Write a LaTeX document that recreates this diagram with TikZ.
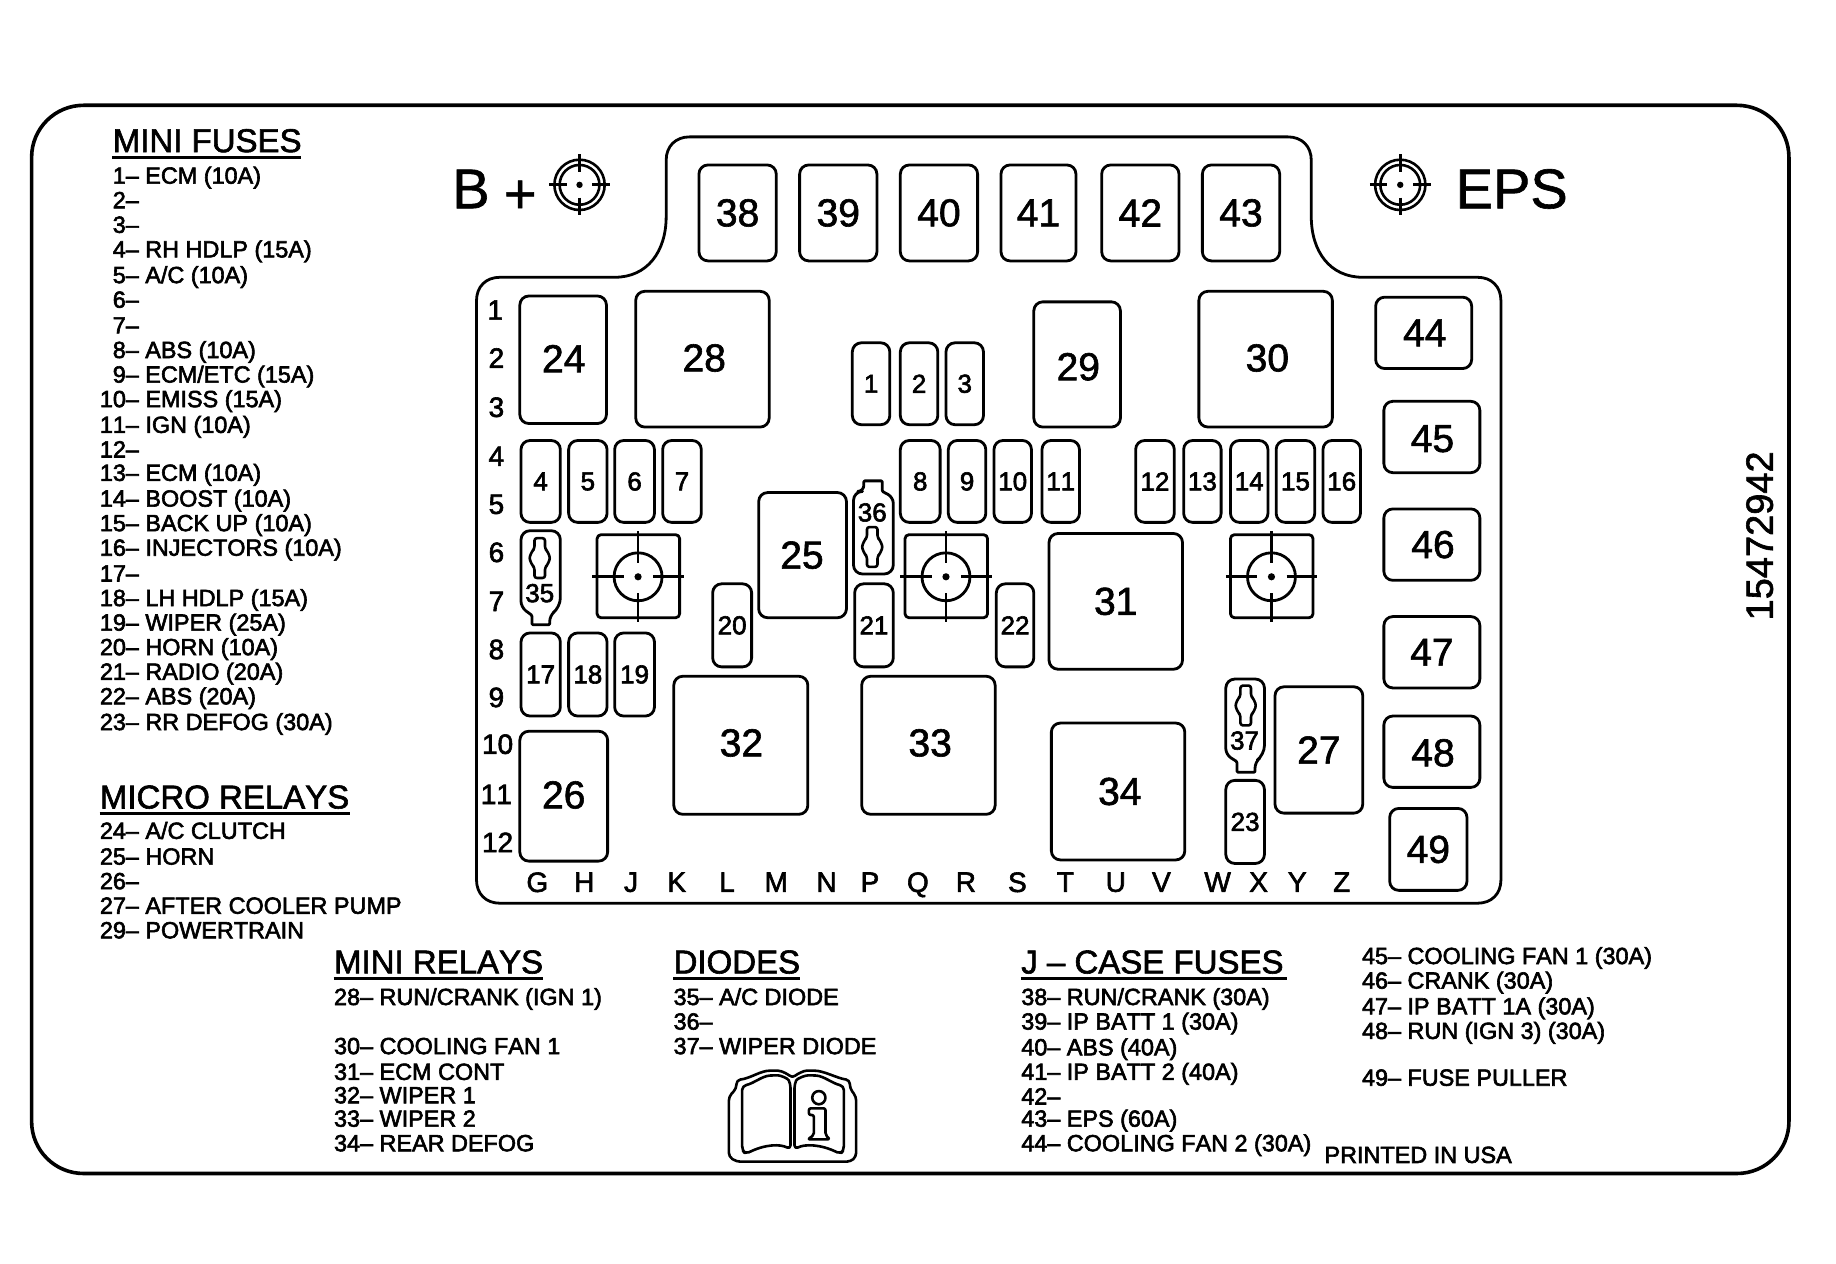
\documentclass[tikz,border=0pt]{standalone}
\usepackage{fontspec}
\setmainfont{Liberation Sans}
\newfontfamily\lab[Kerning=Off]{Liberation Sans}
\newcommand{\fsz}[1]{\lab\fontsize{#1}{#1}\selectfont}
\tikzset{
  ln/.style={draw=black,line width=1.4pt,line join=round},
  frameline/.style={draw=black,line width=1.8pt,line join=round},
  rbox/.style={ln,rounded corners=4.5pt},
  every node/.style={execute at begin node={\special{pdf:code 2 Tr 0.3 w}},execute at end node={\special{pdf:code 0 Tr}}},
  big/.style={inner sep=0pt,font=\fsz{19.5}},
  sml/.style={inner sep=0pt,font=\fsz{13}},
  rowl/.style={inner sep=0pt,text depth=0pt,font=\fsz{14}},
  listt/.style={inner sep=0pt,anchor=base west,font=\fsz{11.7}},
  head/.style={inner sep=0pt,anchor=base west,font=\fsz{16.5}},
  huge/.style={inner sep=0pt,font=\fsz{28}},
}
% box: [dx][dy] x1 y1 x2 y2 label style
\NewDocumentCommand{\bx}{O{0}O{0}mmmmmm}{\draw[rbox] (#3,#4) rectangle (#5,#6);
  \node[#8] (b#7) at ({(#3+#5)/2+#1},{(#4+#6)/2+#2}) {#7};}
% list text
\newcommand{\itm}[3]{\node[listt] (t#1-#2) at (#1,#2+7) {#3};}
% heading with underline
\newcommand{\hd}[5]{\node[head] (h#1) at (#2,#3+10) {#5};
  \draw[black,line width=1.5pt] (#2,#3+14.5) -- (#4,#3+14.5);}
\newcommand{\rowlab}[3]{\node[rowl] (r#3) at (#1,#2) {#3};}
% diode glyph
\newcommand{\diode}[2]{\draw[ln,rounded corners=1.2pt,line width=1.3pt] (#1-4.5,#2-17)--(#1+4.5,#2-17)--(#1+4.5,#2-8)--(#1+6.5,#2-6)--(#1+9,#2)--(#1+6.5,#2+6)--(#1+4.5,#2+8)--(#1+4.5,#2+17)--(#1-4.5,#2+17)--(#1-4.5,#2+8)--(#1-6.5,#2+6)--(#1-9,#2)--(#1-6.5,#2-6)--(#1-4.5,#2-8)--cycle;}
% crosshair in a square
\newcommand{\hole}[2]{\draw[rbox,rounded corners=2pt] (#1-35,#2-36) rectangle (#1+35.5,#2+35);
  \draw[ln] (#1,#2) circle (20.5*0.585pt);
  \draw[ln] (#1-39,#2)--(#1-12,#2) (#1+13,#2)--(#1+39,#2) (#1,#2-39)--(#1,#2-12) (#1,#2+14)--(#1,#2+39);
  \fill (#1,#2) circle (1.8pt);}
% terminal symbol
\newcommand{\term}[2]{\draw[ln,line width=1.3pt] (#1,#2) circle (21.5*0.585pt) (#1,#2) circle (17*0.585pt);
  \draw[ln,line width=1.4pt] (#1-26,#2)--(#1-11,#2) (#1+11,#2)--(#1+26,#2) (#1,#2-26)--(#1,#2-11) (#1,#2+11)--(#1,#2+26);
  \fill (#1,#2) circle (1.6pt);}
\begin{document}
\begin{tikzpicture}[x=0.5854pt,y=-0.585pt]
\useasboundingbox[fill=white] (0,0) rectangle (1568.2,1080.3);
% outer frame
\draw[frameline,rounded corners=26pt] (27,90) rectangle (1528,1003);
% inner outline
\draw[ln] (427,237) -- (525,237) .. controls (553,237) and (569,215) .. (569,185) -- (569,137) .. controls (569,125) and (577,117) .. (589,117) -- (1100,117) .. controls (1112,117) and (1120,125) .. (1120,137) -- (1120,185) .. controls (1120,215) and (1136,237) .. (1164,237) -- (1262,237) .. controls (1274,237) and (1282,245) .. (1282,257) -- (1282,752) .. controls (1282,764) and (1274,772) .. (1262,772) -- (427,772) .. controls (415,772) and (407,764) .. (407,752) -- (407,257) .. controls (407,245) and (415,237) .. (427,237) -- cycle;
% top fuses
\bx{597}{141}{663}{223}{38}{big}
\bx{683}{141}{749}{223}{39}{big}
\bx{769}{141}{835}{223}{40}{big}
\bx{855}{141}{919}{223}{41}{big}
\bx{941}{141}{1007}{223}{42}{big}
\bx{1027}{141}{1093}{223}{43}{big}
% right fuses
\bx[1][0]{1175}{254}{1257}{315}{44}{big}
\bx[0.5][1.5]{1182}{343}{1264}{404}{45}{big}
\bx[1][0]{1182}{435}{1264}{496}{46}{big}
\bx{1182}{527}{1264}{588}{47}{big}
\bx[1][1]{1182}{612}{1264}{673}{48}{big}
\bx{1187}{691}{1253}{761}{49}{big}
% relays
\bx[0.5][-1]{444}{253}{518}{362}{24}{big}
\bx[1.5][-1]{543}{249}{657}{365}{28}{big}
\bx[1][2]{883}{258}{957}{365}{29}{big}
\bx[1.5][-1]{1024}{249}{1138}{365}{30}{big}
\bx[-0.5][0]{648}{421}{723}{528}{25}{big}
\bx{896}{456}{1010}{572}{31}{big}
\bx[0][-1]{444}{625}{519}{736}{26}{big}
\bx[0.5][-2]{575.5}{578}{690}{696}{32}{big}
\bx[1.5][-2]{736}{578}{850}{696}{33}{big}
\bx[1.5][0]{898}{618}{1012}{735}{34}{big}
\bx{1089}{587}{1164}{695}{27}{big}
% mini fuses
\bx{728}{293}{760}{363}{1}{sml}
\bx{769}{293}{801}{363}{2}{sml}
\bx{808}{293}{840}{363}{3}{sml}
\bx{445}{376.5}{478.6}{446.5}{4}{sml}
\bx{485.7}{376.5}{518.5}{446.5}{5}{sml}
\bx{525}{376.5}{559}{446.5}{6}{sml}
\bx{566}{376.5}{599}{446.5}{7}{sml}
\bx{769}{376.5}{803}{446.5}{8}{sml}
\bx{810}{376.5}{842}{446.5}{9}{sml}
\bx{849}{376.5}{881}{446.5}{10}{sml}
\bx{890}{376.5}{922}{446.5}{11}{sml}
\bx{970}{376.5}{1003}{446.5}{12}{sml}
\bx{1011}{376.5}{1043}{446.5}{13}{sml}
\bx{1051}{376.5}{1083}{446.5}{14}{sml}
\bx{1090}{376.5}{1123}{446.5}{15}{sml}
\bx{1130}{376.5}{1162}{446.5}{16}{sml}
\bx{445}{541}{478.6}{612}{17}{sml}
\bx{485.7}{541}{518.5}{612}{18}{sml}
\bx{525}{541}{559}{612}{19}{sml}
\bx{608.7}{499}{642}{570}{20}{sml}
\bx{730}{499}{763}{570}{21}{sml}
\bx{851}{499}{883}{570}{22}{sml}
\bx{1047}{667}{1080}{738}{23}{sml}
% diodes
\draw[rbox] (445,453.6) -- (478.6,453.6) -- (478.6,519) [rounded corners=3pt] -- (469.5,526) [rounded corners=0.5pt] -- (469.5,534) -- (454.4,534) -- (454.4,526) [rounded corners=3pt] -- (445,519) [rounded corners=4.5pt] -- cycle;
\diode{461}{477}
\node[sml] (b35) at (461,507) {35};
\draw[rbox] (729,420) [rounded corners=3pt] -- (737.8,420) [rounded corners=0.5pt] -- (737.8,411) -- (753.6,411) -- (753.6,420) [rounded corners=3pt] -- (763,425) [rounded corners=4.5pt] -- (763,490.6) -- (729,490.6) -- cycle;
\diode{745}{467.5}
\node[sml] (b36) at (745,438) {36};
\draw[rbox] (1047,580.4) -- (1080,580.4) -- (1080,645) [rounded corners=3pt] -- (1072,651) [rounded corners=0.5pt] -- (1072,660) -- (1056.5,660) -- (1056.5,651) [rounded corners=3pt] -- (1047,645) [rounded corners=4.5pt] -- cycle;
\diode{1064}{603}
\node[sml] (b37) at (1063,633) {37};
% holes
\hole{545}{493}
\hole{808}{493}
\hole{1086}{493}
% terminals
\term{495}{158}
\term{1196}{158}
\node[huge,anchor=base west] (bplus) at (386,178) {B};
\node[huge,anchor=base west] (plus) at (430,182) {+};
\node[huge,anchor=base west] (eps) at (1243,178) {EPS};
\node[inner sep=0pt,font=\fsz{19},rotate=90] (pn) at (1503,458) {15472942};
% row labels
\rowlab{423}{265}{1}
\rowlab{424}{306}{2}
\rowlab{424}{348}{3}
\rowlab{424}{390}{4}
\rowlab{424}{431}{5}
\rowlab{424}{472}{6}
\rowlab{424}{514}{7}
\rowlab{424}{555}{8}
\rowlab{424}{596}{9}
\rowlab{425}{636}{10}
\rowlab{424}{679}{11}
\rowlab{425}{720}{12}
% column labels
\rowlab{459}{754}{G}
\rowlab{499}{754}{H}
\rowlab{539}{754}{J}
\rowlab{578}{754}{K}
\rowlab{621}{754}{L}
\rowlab{663}{754}{M}
\rowlab{706}{754}{N}
\rowlab{743}{754}{P}
\rowlab{784}{754}{Q}
\rowlab{825}{754}{R}
\rowlab{869}{754}{S}
\rowlab{910}{754}{T}
\rowlab{953}{754}{U}
\rowlab{992}{754}{V}
\rowlab{1040}{754}{W}
\rowlab{1075}{754}{X}
\rowlab{1108}{754}{Y}
\rowlab{1146}{754}{Z}
% headings
\hd{a}{96}{120}{257}{MINI FUSES}
\hd{b}{85}{681}{299}{MICRO RELAYS}
\hd{c}{285}{822}{464}{MINI RELAYS}
\hd{d}{575}{822}{683}{DIODES}
\hd{e}{872}{822}{1099}{J – CASE FUSES}
% mini fuses list
\itm{96}{150}{1– ECM (10A)}
\itm{96}{171}{2–}
\itm{96}{192}{3–}
\itm{96}{213}{4– RH HDLP (15A)}
\itm{96}{235}{5– A/C (10A)}
\itm{96}{256}{6–}
\itm{96}{278}{7–}
\itm{96}{299}{8– ABS (10A)}
\itm{96}{320}{9– ECM/ETC (15A)}
\itm{85}{341}{10– EMISS (15A)}
\itm{85}{363}{11– IGN (10A)}
\itm{85}{384}{12–}
\itm{85}{404}{13– ECM (10A)}
\itm{85}{426}{14– BOOST (10A)}
\itm{85}{447}{15– BACK UP (10A)}
\itm{85}{468}{16– INJECTORS (10A)}
\itm{85}{490}{17–}
\itm{85}{511}{18– LH HDLP (15A)}
\itm{85}{532}{19– WIPER (25A)}
\itm{85}{553}{20– HORN (10A)}
\itm{85}{574}{21– RADIO (20A)}
\itm{85}{595}{22– ABS (20A)}
\itm{85}{617}{23– RR DEFOG (30A)}
% micro relays
\itm{85}{710}{24– A/C CLUTCH}
\itm{85}{732}{25– HORN}
\itm{85}{753}{26–}
\itm{85}{774}{27– AFTER COOLER PUMP}
\itm{85}{795}{29– POWERTRAIN}
% mini relays
\itm{285}{852}{28– RUN/CRANK (IGN 1)}
\itm{285}{894}{30– COOLING FAN 1}
\itm{285}{916}{31– ECM CONT}
\itm{285}{936}{32– WIPER 1}
\itm{285}{956}{33– WIPER 2}
\itm{285}{977}{34– REAR DEFOG}
% diodes
\itm{575}{852}{35– A/C DIODE}
\itm{575}{873}{36–}
\itm{575}{894}{37– WIPER DIODE}
% j-case
\itm{872}{852}{38– RUN/CRANK (30A)}
\itm{872}{873}{39– IP BATT 1 (30A)}
\itm{872}{895}{40– ABS (40A)}
\itm{872}{916}{41– IP BATT 2 (40A)}
\itm{872}{937}{42–}
\itm{872}{956}{43– EPS (60A)}
\itm{872}{977}{44– COOLING FAN 2 (30A)}
\itm{1163}{817}{45– COOLING FAN 1 (30A)}
\itm{1163}{838}{46– CRANK (30A)}
\itm{1163}{860}{47– IP BATT 1A (30A)}
\itm{1163}{881}{48– RUN (IGN 3) (30A)}
\itm{1163}{921}{49– FUSE PULLER}
\itm{1131}{987}{PRINTED IN USA}
% book icon
\begin{scope}[shift={(555.6,854.7)},x=0.1667pt,y=-0.1667pt]
\draw[ln,line width=1.3pt,rounded corners=2pt] (258,485) -- (235,470) -- (235,290) -- (258,265) -- (258,240) .. controls (300,235) and (330,212) .. (370,212) .. controls (395,212) and (415,225) .. (425,235) .. controls (440,222) and (460,212) .. (480,212) .. controls (520,212) and (560,235) .. (598,240) -- (598,265) -- (617,290) -- (617,470) -- (600,485) -- cycle;
\draw[ln,line width=1.3pt,rounded corners=2pt] (275,258) .. controls (310,250) and (335,228) .. (370,226) .. controls (390,226) and (412,235) .. (420,252) -- (420,448) .. controls (390,432) and (345,432) .. (285,462) -- (275,450) -- cycle;
\draw[ln,line width=1.3pt,rounded corners=2pt] (580,258) .. controls (545,250) and (520,228) .. (485,226) .. controls (465,226) and (440,235) .. (432,252) -- (432,448) .. controls (462,432) and (510,432) .. (570,462) -- (580,450) -- cycle;
\draw[ln,line width=1.3pt] (505,293) circle (3.3pt);
\draw[ln,line width=1.3pt,rounded corners=1pt] (475,325) -- (525,325) -- (525,405) -- (538,418) -- (472,418) -- (490,405) -- (490,345) -- (475,345) -- cycle;
\end{scope}
\end{tikzpicture}
\end{document}
